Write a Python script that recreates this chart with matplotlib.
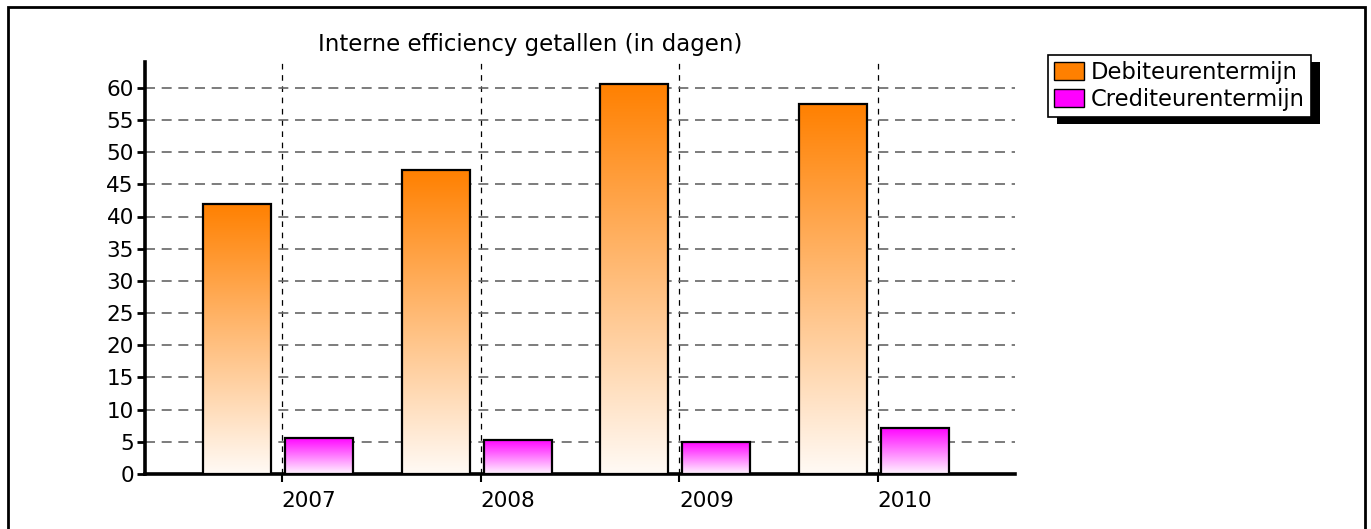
import matplotlib
matplotlib.use("Agg")
import matplotlib.pyplot as plt
import numpy as np
from matplotlib.colors import LinearSegmentedColormap
from matplotlib.patches import Rectangle, Patch
from matplotlib.transforms import IdentityTransform

years = ["2007", "2008", "2009", "2010"]
debiteuren = [42.0, 47.3, 60.6, 57.5]
crediteuren = [5.6, 5.3, 5.0, 7.2]
labels = ["Debiteurentermijn", "Crediteurentermijn"]

W, H = 1371, 529
fig = plt.figure(figsize=(W / 100, H / 100), dpi=100)
ax = fig.add_axes([145 / W, 55 / H, 870 / W, 412 / H])

x = np.arange(len(years))
width = 0.343
b1 = ax.bar(x - 0.227, debiteuren, width, facecolor="none", edgecolor="black", linewidth=1.6, zorder=3)
b2 = ax.bar(x + 0.186, crediteuren, width, facecolor="none", edgecolor="black", linewidth=1.6, zorder=3)


def gradient_fill(bars, top, bottom):
    # vertical fade from top colour down to near white, clipped to each bar
    cmap = LinearSegmentedColormap.from_list("fade", [bottom, top])
    grad = np.linspace(0, 1, 256).reshape(-1, 1)
    for bar in bars:
        x0, y0 = bar.get_x(), bar.get_y()
        w, h = bar.get_width(), bar.get_height()
        im = ax.imshow(grad, extent=[x0, x0 + w, y0, y0 + h], origin="lower",
                       aspect="auto", cmap=cmap, zorder=2.9, interpolation="bilinear")
        im.set_clip_path(bar)


gradient_fill(b1, "#ff8000", "#fffaf5")
gradient_fill(b2, "#ff00ff", "#fff5ff")

ax.set_xlim(-0.69, 3.69)
ax.set_ylim(0, 64)

# grid
ax.set_yticks(np.arange(0, 61, 5))
ax.yaxis.grid(True, color="#666666", linestyle=(0, (6, 4)), linewidth=1.2, zorder=1)
ax.set_xticks(x)
ax.xaxis.grid(True, color="black", linestyle=(0, (4.5, 4.5)), linewidth=0.9, zorder=1)
ax.set_xticks(x + 0.136, years, minor=True)
ax.tick_params(axis="x", which="major", length=6, width=1.5, labelbottom=False)
ax.tick_params(axis="x", which="minor", length=0, labelsize=15.5, pad=12)
ax.tick_params(axis="y", length=6, width=2, labelsize=15.5, pad=2)

for side in ["top", "right"]:
    ax.spines[side].set_visible(False)
for side in ["left", "bottom"]:
    ax.spines[side].set_linewidth(2.6)

fig.text(530 / W, 1 - 44 / H, "Interne efficiency getallen (in dagen)",
         ha="center", va="center", fontsize=16.5)

handles = [Patch(facecolor="#ff8000", edgecolor="black"),
           Patch(facecolor="#ff00ff", edgecolor="black")]
leg = fig.legend(handles, labels, loc="upper left", bbox_to_anchor=(1048 / W, 1 - 55 / H),
                 frameon=True, fancybox=False, edgecolor="black", framealpha=1,
                 fontsize=16.3, handlelength=1.35, handleheight=0.85, handletextpad=0.3,
                 borderpad=0.25, labelspacing=0.2, borderaxespad=0)
leg.get_frame().set_linewidth(1.2)

# drop shadow behind legend
fig.canvas.draw()
bb = leg.get_window_extent()
fig.patches.append(Rectangle((bb.x0 + 9, bb.y0 - 7), bb.width, bb.height,
                             transform=IdentityTransform(), facecolor="black",
                             edgecolor="none", zorder=4))

# outer frame
fig.patches.append(Rectangle((7.5 / W, -0.05), (1365 - 7.5) / W, 1.05 - 6.5 / H,
                             transform=fig.transFigure, fill=False,
                             edgecolor="black", linewidth=2, zorder=0))

fig.savefig("out.png", dpi=100)
